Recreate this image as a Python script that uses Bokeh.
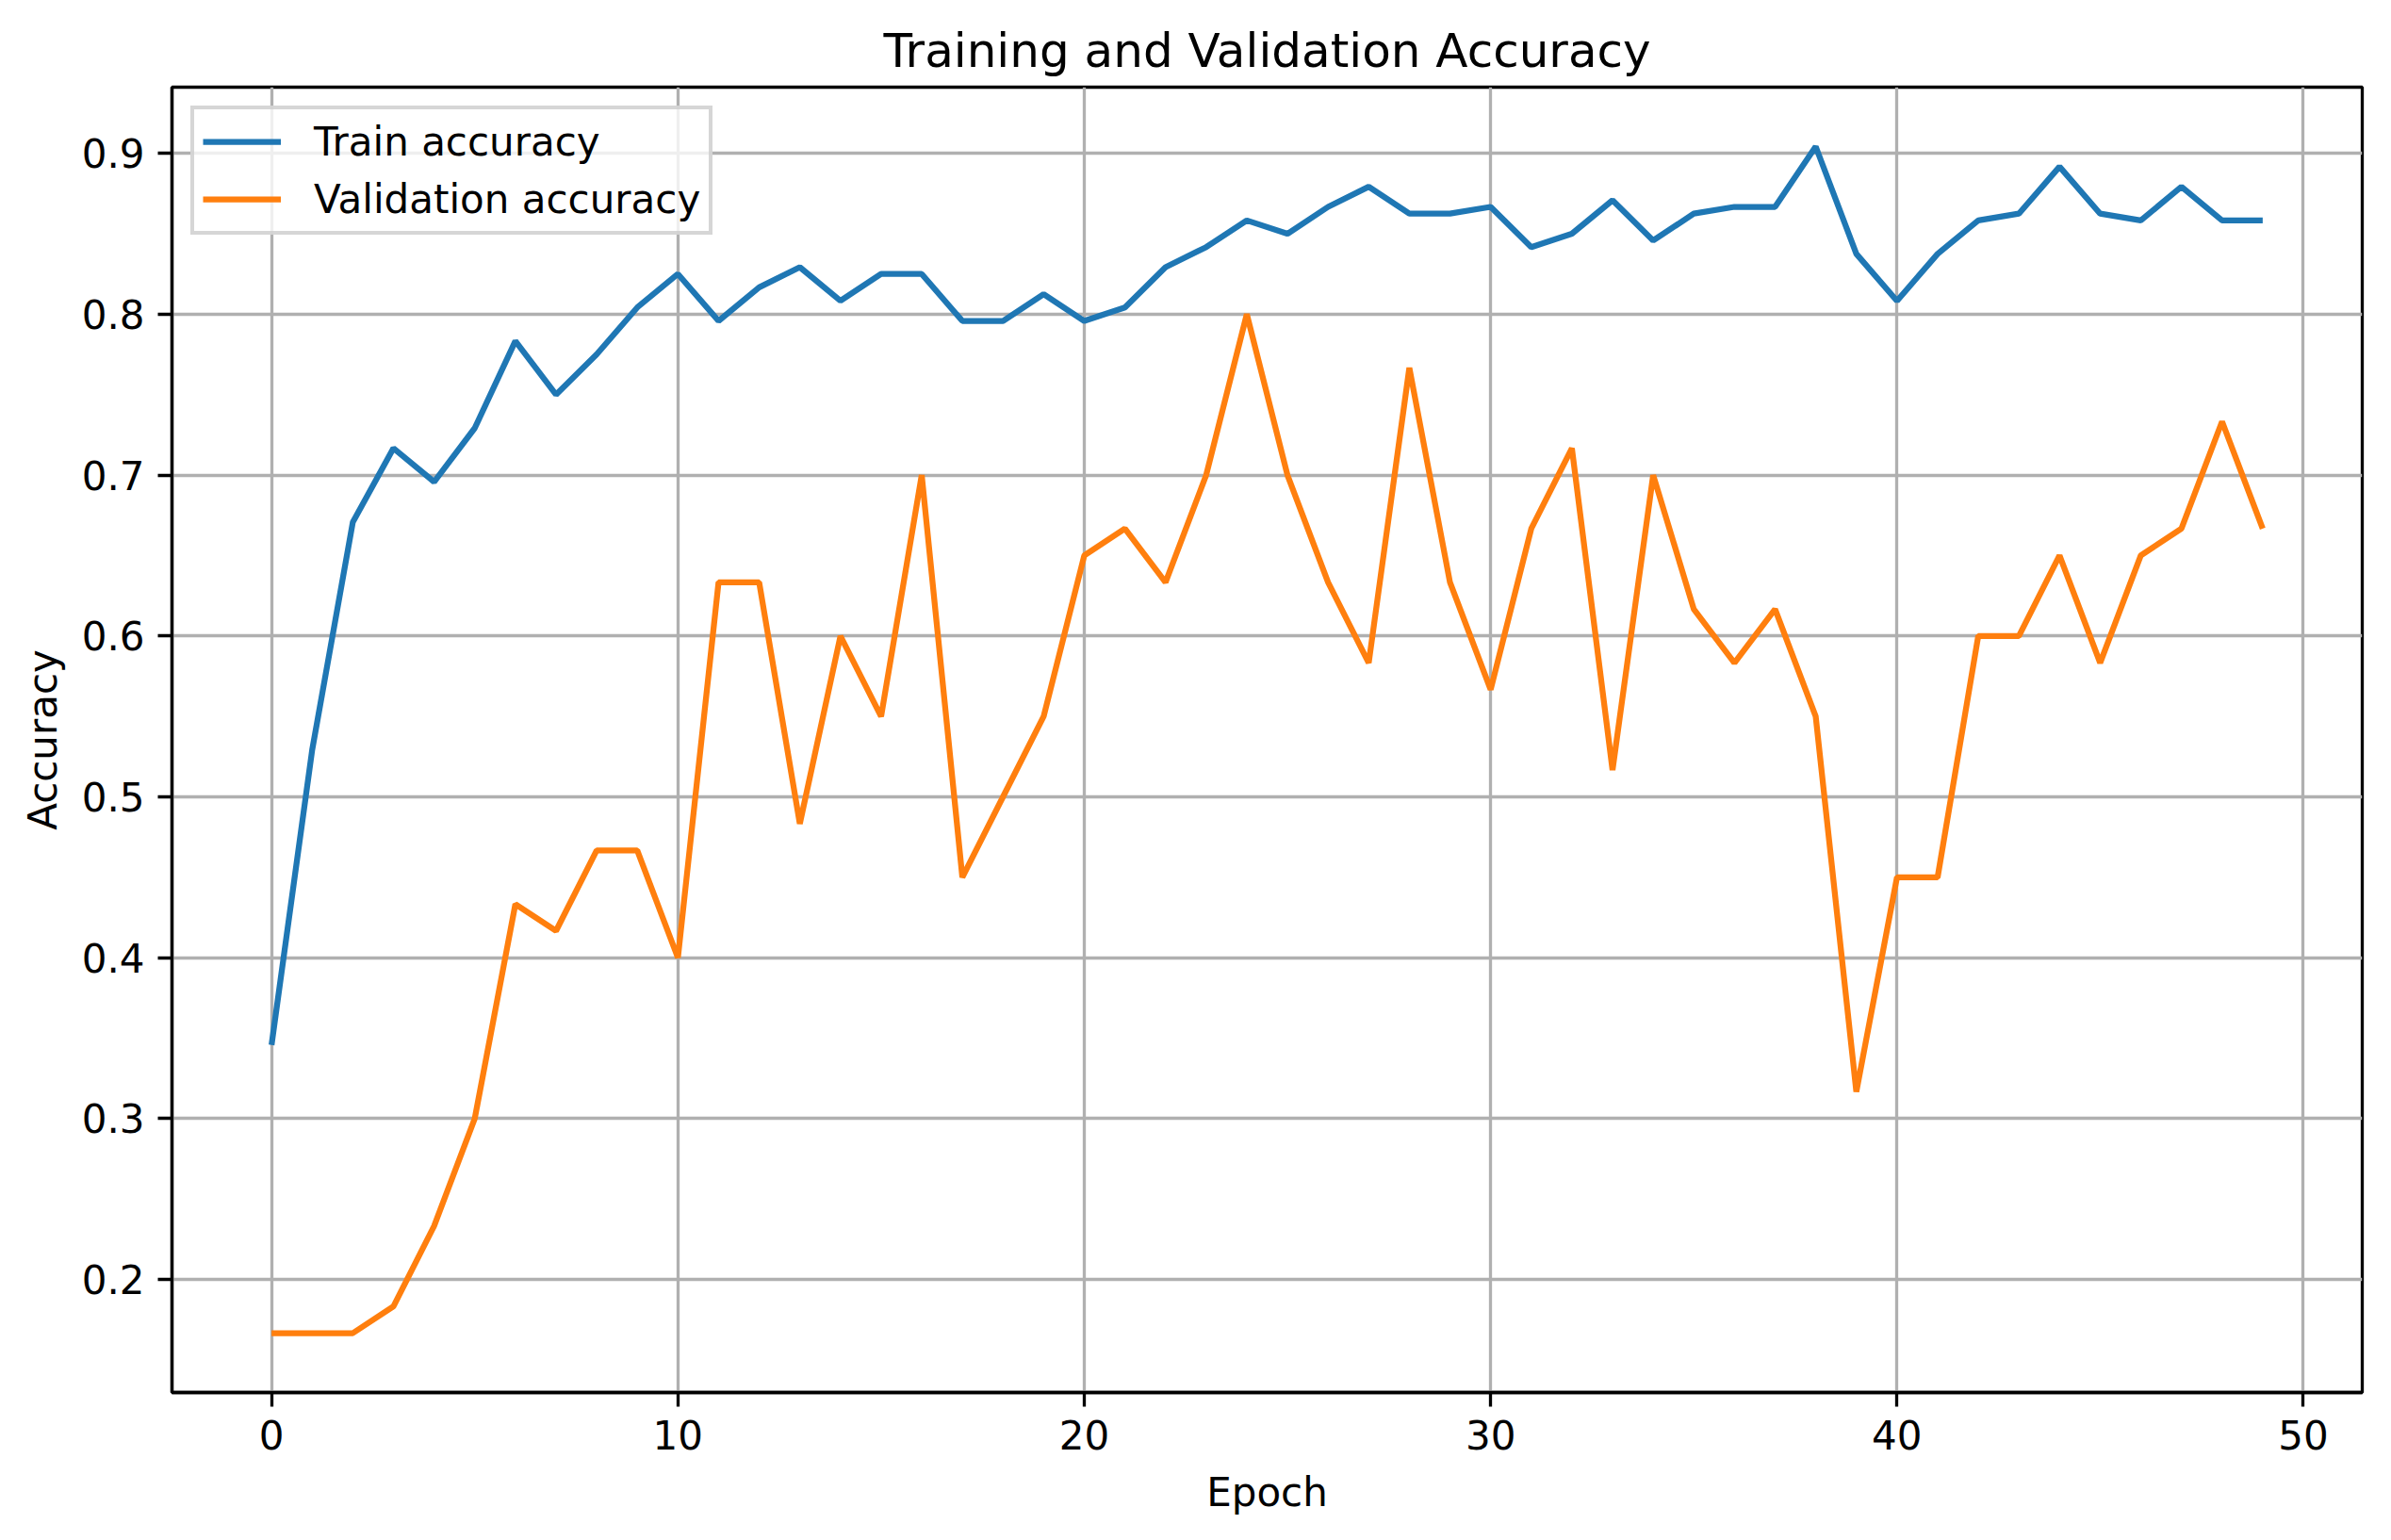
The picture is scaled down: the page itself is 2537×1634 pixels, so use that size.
from bokeh.plotting import figure
from bokeh.models import FixedTicker, Range1d, NumeralTickFormatter
from bokeh.embed import file_html
from bokeh.resources import INLINE

epochs = list(range(50))
train_acc = [0.3458, 0.5292, 0.6708, 0.7167, 0.6958, 0.7292, 0.7833, 0.7500, 0.7750, 0.8042,
             0.8250, 0.7958, 0.8167, 0.8292, 0.8083, 0.8250, 0.8250, 0.7958, 0.7958, 0.8125,
             0.7958, 0.8042, 0.8292, 0.8417, 0.8583, 0.8500, 0.8667, 0.8792, 0.8625, 0.8625,
             0.8667, 0.8417, 0.8500, 0.8708, 0.8458, 0.8625, 0.8667, 0.8667, 0.9042, 0.8375,
             0.8083, 0.8375, 0.8583, 0.8625, 0.8917, 0.8625, 0.8583, 0.8792, 0.8583, 0.8583]
val_acc = [0.1667, 0.1667, 0.1667, 0.1833, 0.2333, 0.3000, 0.4333, 0.4167, 0.4667, 0.4667,
           0.4000, 0.6333, 0.6333, 0.4833, 0.6000, 0.5500, 0.7000, 0.4500, 0.5000, 0.5500,
           0.6500, 0.6667, 0.6333, 0.7000, 0.8000, 0.7000, 0.6333, 0.5833, 0.7667, 0.6333,
           0.5667, 0.6667, 0.7167, 0.5167, 0.7000, 0.6167, 0.5833, 0.6167, 0.5500, 0.3167,
           0.4500, 0.4500, 0.6000, 0.6000, 0.6500, 0.5833, 0.6500, 0.6667, 0.7333, 0.6667]
x_ticks = [0, 10, 20, 30, 40, 50]
y_ticks = [0.2, 0.3, 0.4, 0.5, 0.6, 0.7, 0.8, 0.9]

FONT = "DejaVu Sans"

p = figure(width=2537, height=1634, output_backend="svg", toolbar_location=None,
           x_range=Range1d(-2.45, 51.45), y_range=Range1d(0.1298, 0.9411),
           min_border_left=182, min_border_right=31, min_border_top=92, min_border_bottom=157,
           title="Training and Validation Accuracy")

p.title.align = "center"
p.title.text_font = FONT
p.title.text_font_size = "50px"
p.title.text_font_style = "normal"
p.title.text_color = "black"
p.title.standoff = 19

p.line(epochs, train_acc, line_color="#1f77b4", line_width=6.25, legend_label="Train accuracy")
p.line(epochs, val_acc, line_color="#ff7f0e", line_width=6.25, legend_label="Validation accuracy")

p.xaxis.ticker = FixedTicker(ticks=x_ticks)
p.yaxis.ticker = FixedTicker(ticks=y_ticks)
p.xaxis.formatter = NumeralTickFormatter(format="0")
p.yaxis.formatter = NumeralTickFormatter(format="0.0")
p.xaxis.axis_label = "Epoch"
p.yaxis.axis_label = "Accuracy"

for ax in (p.xaxis[0], p.yaxis[0]):
    ax.axis_label_text_font = FONT
    ax.axis_label_text_font_size = "42px"
    ax.axis_label_text_font_style = "normal"
    ax.axis_label_text_color = "black"
    ax.axis_label_standoff = 18
    ax.major_label_text_font = FONT
    ax.major_label_text_font_size = "42px"
    ax.major_label_text_color = "black"
    ax.major_label_standoff = 14
    ax.major_tick_out = 15
    ax.major_tick_in = 0
    ax.minor_tick_out = 0
    ax.minor_tick_in = 0
    ax.major_tick_line_width = 3.3
    ax.major_tick_line_color = "black"
    ax.axis_line_width = 3.3
    ax.axis_line_color = "black"
p.yaxis[0].axis_label_standoff = 14

for g in (p.xgrid[0], p.ygrid[0]):
    g.grid_line_color = "#b0b0b0"
    g.grid_line_width = 3.3

p.outline_line_color = "black"
p.outline_line_width = 3.3
p.outline_line_alpha = 1.0

lg = p.legend[0]
lg.location = "top_left"
lg.margin = 20
lg.padding = 9
lg.spacing = 11
lg.glyph_width = 83
lg.glyph_height = 50
lg.label_height = 50
lg.label_standoff = 35
lg.label_text_font = FONT
lg.label_text_font_size = "42px"
lg.label_text_color = "black"
lg.border_line_color = "#cccccc"
lg.border_line_width = 4
lg.border_line_alpha = 0.8
lg.background_fill_color = "white"
lg.background_fill_alpha = 0.8

open("out.html", "w").write(file_html(p, INLINE))
